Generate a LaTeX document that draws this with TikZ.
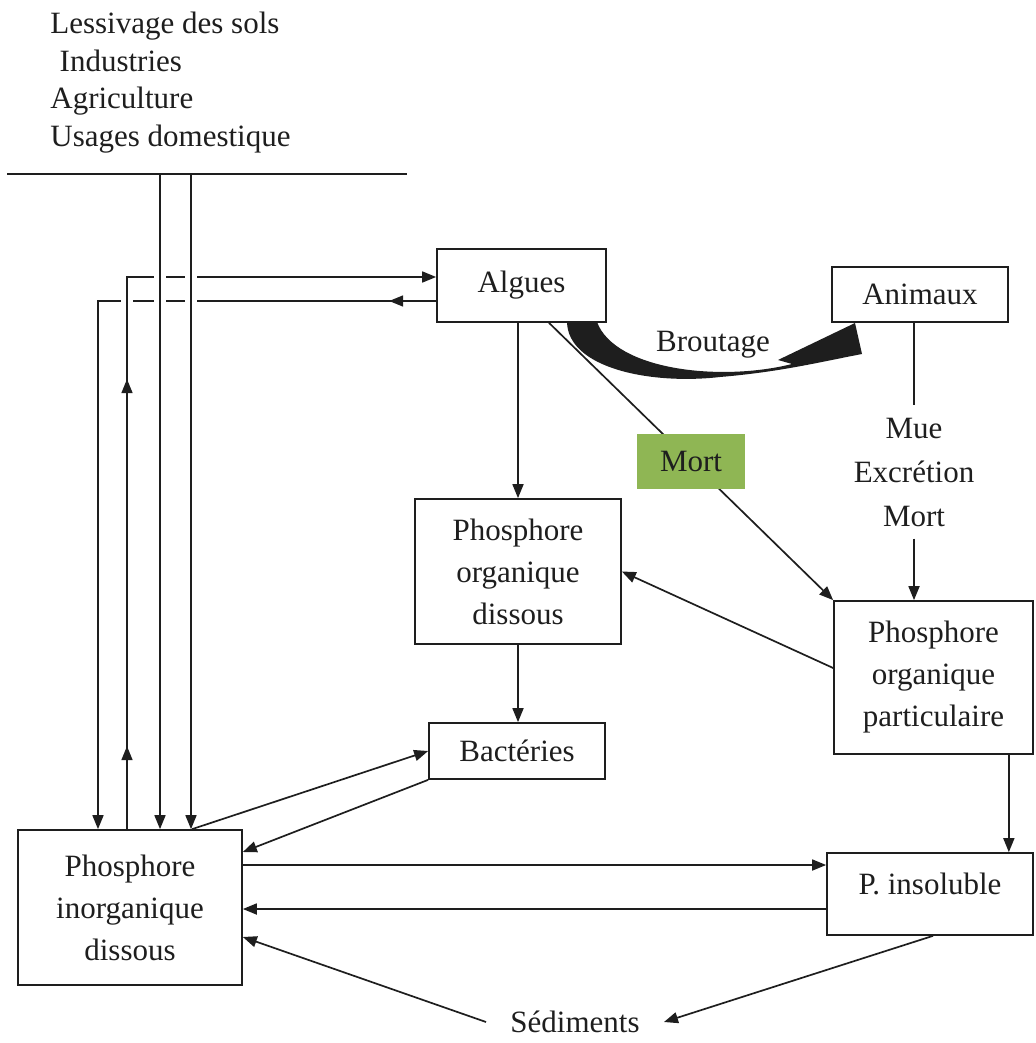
\documentclass[tikz,border=0pt]{standalone}
\usepackage{fontspec}
\setmainfont{Liberation Serif}
\usetikzlibrary{arrows.meta,calc,decorations.markings}
\definecolor{inkgray}{HTML}{1E1E1E}
\definecolor{mortgreen}{HTML}{8FB654}

\begin{document}
\begin{tikzpicture}[x=0.5pt,y=-0.5pt,
    every node/.style={text=inkgray,font=\fontsize{15.5}{21}\selectfont},
    box/.style={draw=inkgray,line width=0.85pt,align=center,inner sep=0pt},
    line/.style={draw=inkgray,line width=0.85pt},
    arr/.style={line,-{Triangle[length=7pt,width=5.5pt]}},
    gap/.style={preaction={draw=white,line width=6pt,-}},
    >={Triangle[length=7pt,width=5.5pt]}]
\useasboundingbox (0,0) rectangle (1035,1043);

% sources
\node[anchor=north west,align=left,inner sep=0pt,font=\fontsize{15.5}{18.75}\selectfont] (sources) at (50,12)
    {Lessivage des sols\\\hspace*{0.3em}Industries\\Agriculture\\Usages domestique};
\coordinate (srcl) at (7,174);
\coordinate (srcr) at (407,174);
\coordinate (in1) at (160,174);
\coordinate (in2) at (191,174);
\coordinate (lowl) at (98,301);
\coordinate (upl) at (127,277);

% compartiments
\node[box,minimum width=84.5pt,minimum height=36.5pt] (algues) at (521.5,285.5) {Algues};
\node[box,minimum width=88pt,minimum height=27.5pt] (animaux) at (920,294.5) {Animaux};
\node[box,minimum width=103pt,minimum height=72.5pt] (pod) at (518,571.5) {Phosphore\\organique\\dissous};
\node[box,minimum width=99.5pt,minimum height=76.5pt] (pop) at (933.5,677.5) {Phosphore\\organique\\particulaire};
\node[box,minimum width=88pt,minimum height=28pt] (bact) at (517,751) {Bactéries};
\node[box,minimum width=112pt,minimum height=77.5pt] (pio) at (130,907.5) {Phosphore\\inorganique\\dissous};
\node[box,minimum width=103pt,minimum height=41pt,text height=10.5pt,text depth=10.5pt] (pins) at (930,894) {P. insoluble};
\node[font=\fontsize{15.5}{22}\selectfont,align=center,inner sep=6pt] (mue) at (914,472) {Mue\\Excrétion\\Mort};
\node[inner xsep=12pt] (sed) at (575,1022) {Sédiments};
\node (brout) at (713,345) {Broutage};

% boucle algues / phosphore inorganique
\draw[arr,decoration={markings,mark=at position 23.5pt with {\arrow{>}}},postaction=decorate]
    ($(algues.west)+(0,15.5)$) -- (lowl) -- (lowl |- pio.north);
\draw[arr,gap,decoration={markings,mark=at position 41.5pt with {\arrow{>}},mark=at position 225pt with {\arrow{>}}},postaction=decorate]
    (upl |- pio.north) -- (upl) -- ($(algues.west)+(0,-8.5)$);
\draw[arr,gap] (in1) -- (in1 |- pio.north);
\draw[arr,gap] (in2) -- (in2 |- pio.north);
\draw[line] (srcl) -- (srcr);

% broutage
\fill[inkgray] (567,322) .. controls (568,368) and (650,385) .. (720,377)
    .. controls (780,372) and (820,362) .. (862,354) -- (855,323) -- (778,360) -- (792,364)
    .. controls (720,382) and (615,370) .. (597,322) -- cycle;

\draw[arr] (pod.north |- algues.south) -- (pod.north);
\draw[arr] ($(algues.south)+(27.5,0)$) -- node[fill=mortgreen,minimum width=54pt,minimum height=27.5pt,inner sep=0pt] (mort) {Mort} (pop.north west);
\draw[line] (animaux.south -| mue.north) -- (mue.north);
\draw[arr] (mue.south) -- (mue.south |- pop.north);
\draw[arr] ($(pop.west)+(0,-9.5)$) -- (pod.east);
\draw[arr] (pod.south) -- (pod.south |- bact.north);
\draw[arr] ($(pio.north)+(62,0)$) -- (bact.west);
\draw[arr] (bact.south west) -- ($(pio.east)+(0,-55.5)$);
\draw[arr] ($(pio.east)+(0,-42.5)$) -- ($(pins.west)+(0,-29)$);
\draw[arr] ($(pins.west)+(0,15)$) -- ($(pio.east)+(0,1.5)$);
\draw[arr] ($(pop.south east)+(-25,0)$) -- ($(pins.north east)+(-25,0)$);
\draw[arr] ($(pins.south)+(3,0)$) -- (sed.east);
\draw[arr] (sed.west) -- ($(pio.east)+(0,29.5)$);
\end{tikzpicture}
\end{document}
